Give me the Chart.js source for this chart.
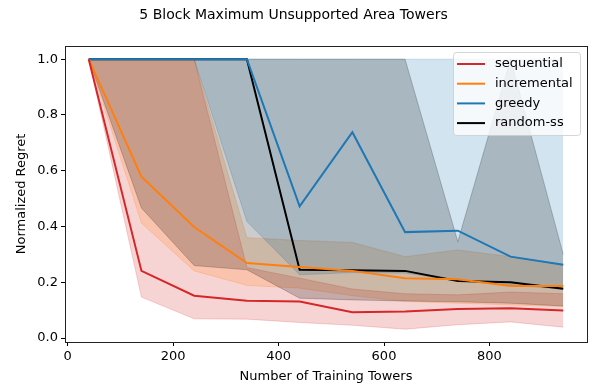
<!DOCTYPE html>
<html>
<head>
<meta charset="utf-8">
<script src="https://cdn.jsdelivr.net/npm/chart.js@4/dist/chart.umd.min.js"></script>
<style>
  html, body { margin: 0; padding: 0; background: #fff; }
</style>
</head>
<body>
<canvas id="regretChart" width="598" height="385"></canvas>
<script>
// Data
const trainingTowers = [40, 140, 240, 340, 440, 540, 640, 740, 840, 940];
const xTicks = [0, 200, 400, 600, 800];
const yTicks = [0.0, 0.2, 0.4, 0.6, 0.8, 1.0];

const sequentialMean  = [1.0, 0.241, 0.152, 0.134, 0.131, 0.093, 0.095, 0.104, 0.107, 0.099];
const sequentialUpper = [1.0, 1.0, 1.0, 0.253, 0.215, 0.176, 0.159, 0.155, 0.165, 0.159];
const sequentialLower = [1.0, 0.147, 0.069, 0.068, 0.056, 0.046, 0.032, 0.048, 0.058, 0.039];

const incrementalMean  = [1.0, 0.579, 0.398, 0.269, 0.255, 0.241, 0.215, 0.211, 0.187, 0.187];
const incrementalUpper = [1.0, 1.0, 1.0, 0.36, 0.35, 0.343, 0.292, 0.316, 0.292, 0.263];
const incrementalLower = [1.0, 0.412, 0.241, 0.189, 0.179, 0.152, 0.131, 0.125, 0.119, 0.113];

const greedyMean  = [1.0, 1.0, 1.0, 1.0, 0.472, 0.738, 0.38, 0.385, 0.292, 0.263];
const greedyUpper = [1.0, 1.0, 1.0, 1.0, 1.0, 1.0, 1.0, 1.0, 1.0, 1.0];
const greedyLower = [1.0, 1.0, 1.0, 0.418, 0.227, 0.235, 0.233, 0.205, 0.19, 0.175];

const randomMean  = [1.0, 1.0, 1.0, 1.0, 0.245, 0.243, 0.241, 0.205, 0.2, 0.177];
const randomUpper = [1.0, 1.0, 1.0, 1.0, 1.0, 1.0, 1.0, 0.346, 1.0, 0.30];
const randomLower = [1.0, 0.466, 0.26, 0.245, 0.143, 0.137, 0.133, 0.13, 0.125, 0.115];

const methods = [
    { label: 'sequential',  color: '#d62728', fill: 'rgba(214, 39, 40, 0.2)',  mean: sequentialMean,  upper: sequentialUpper,  lower: sequentialLower },
    { label: 'incremental', color: '#ff7f0e', fill: 'rgba(255, 127, 14, 0.2)', mean: incrementalMean, upper: incrementalUpper, lower: incrementalLower },
    { label: 'greedy',      color: '#1f77b4', fill: 'rgba(31, 119, 180, 0.2)', mean: greedyMean,      upper: greedyUpper,      lower: greedyLower },
    { label: 'random-ss',   color: '#000000', fill: 'rgba(0, 0, 0, 0.2)',      mean: randomMean,      upper: randomUpper,      lower: randomLower }
];

function toPoints(values) {
    return trainingTowers.map((x, i) => ({ x: x, y: values[i] }));
}

// Mean lines first (drawn on top), then one upper/lower pair per band
const datasets = [];
methods.forEach(m => {
    datasets.push({
        label: m.label,
        data: toPoints(m.mean),
        borderColor: m.color,
        borderWidth: 2,
        pointRadius: 0,
        fill: false,
        order: 0
    });
});
methods.forEach((m, i) => {
    const lowerIndex = methods.length + i * 2 + 1;
    // bands drawn in the matplotlib order: sequential first, random-ss last
    const bandOrder = 10 - i;
    datasets.push({
        label: m.label + ' band',
        data: toPoints(m.upper),
        borderColor: m.fill,
        borderWidth: 1,
        backgroundColor: m.fill,
        pointRadius: 0,
        fill: { target: lowerIndex },
        order: bandOrder
    });
    datasets.push({
        label: m.label + ' band',
        data: toPoints(m.lower),
        borderColor: m.fill,
        borderWidth: 1,
        pointRadius: 0,
        fill: false,
        order: bandOrder
    });
});

// Box around the axes plus a matplotlib-style legend in the top right corner
const frameAndLegend = {
    id: 'frameAndLegend',
    afterDraw(chart) {
        const { ctx, chartArea } = chart;
        ctx.save();
        ctx.strokeStyle = '#222';
        ctx.lineWidth = 1;
        ctx.strokeRect(Math.round(chartArea.left) + 0.5, Math.round(chartArea.top) + 0.5,
            Math.round(chartArea.right - chartArea.left), Math.round(chartArea.bottom - chartArea.top));

        const boxX = 453, boxY = 52, boxW = 127, boxH = 83;
        ctx.fillStyle = 'rgba(255, 255, 255, 0.8)';
        ctx.strokeStyle = 'rgba(204, 204, 204, 0.8)';
        ctx.beginPath();
        ctx.roundRect(boxX + 0.5, boxY + 0.5, boxW, boxH, 3);
        ctx.fill();
        ctx.stroke();

        ctx.font = '13px "DejaVu Sans"';
        ctx.textBaseline = 'middle';
        methods.forEach((m, i) => {
            const rowY = 64 + i * 19.7;
            ctx.strokeStyle = m.color;
            ctx.lineWidth = 2;
            ctx.beginPath();
            ctx.moveTo(457, rowY);
            ctx.lineTo(485, rowY);
            ctx.stroke();
            ctx.fillStyle = '#000';
            ctx.fillText(m.label, 495, rowY);
        });
        ctx.restore();
    }
};

Chart.defaults.font.family = '"DejaVu Sans", sans-serif';
Chart.defaults.color = '#000';

new Chart(document.getElementById('regretChart').getContext('2d'), {
    type: 'line',
    data: { datasets: datasets },
    options: {
        responsive: false,
        animation: false,
        layout: { padding: { left: 0, right: 11, top: 0, bottom: 0 } },
        plugins: {
            legend: { display: false },
            tooltip: { enabled: false },
            title: {
                display: true,
                text: '5 Block Maximum Unsupported Area Towers',
                font: { size: 14, weight: 'normal' },
                padding: { top: 7, bottom: 22 }
            }
        },
        scales: {
            x: {
                type: 'linear',
                min: -5,
                max: 985,
                afterBuildTicks: scale => { scale.ticks = xTicks.map(v => ({ value: v })); },
                afterFit: scale => { scale.height = 43; },
                grid: { drawOnChartArea: false, drawTicks: true, tickLength: 4, color: '#000' },
                border: { display: false },
                ticks: { font: { size: 13 }, padding: 3, maxRotation: 0 },
                title: {
                    display: true,
                    text: 'Number of Training Towers',
                    font: { size: 13 },
                    padding: { top: 0, bottom: 1 }
                }
            },
            y: {
                type: 'linear',
                min: -0.014,
                max: 1.048,
                afterBuildTicks: scale => { scale.ticks = yTicks.map(v => ({ value: v })); },
                afterFit: scale => { scale.width = 65; },
                grid: { drawOnChartArea: false, drawTicks: true, tickLength: 4, color: '#000' },
                border: { display: false },
                ticks: { font: { size: 13 }, padding: 3, callback: v => v.toFixed(1) },
                title: {
                    display: true,
                    text: 'Normalized Regret',
                    font: { size: 13 },
                    padding: { top: 14, bottom: 0 }
                }
            }
        }
    },
    plugins: [frameAndLegend]
});
</script>
</body>
</html>
